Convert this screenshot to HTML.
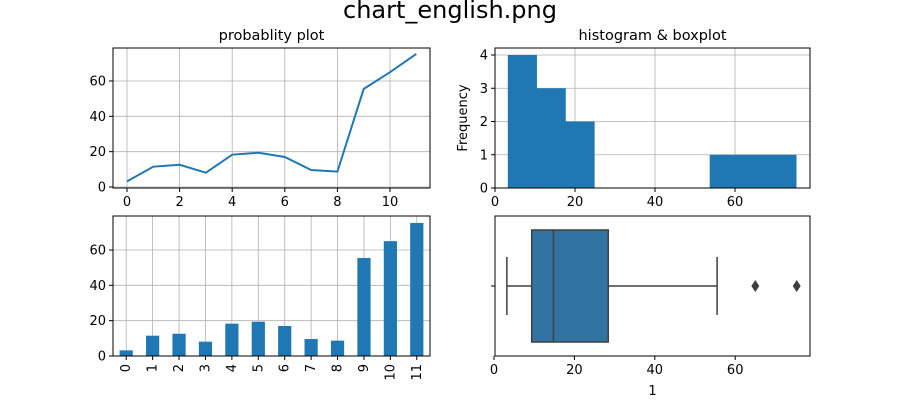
<!DOCTYPE html>
<html><head><meta charset="utf-8"><style>
body{margin:0;background:#fff}
svg{font-family:"DejaVu Sans","Liberation Sans",sans-serif}
</style></head><body>
<svg id="fig" width="900" height="400" xmlns="http://www.w3.org/2000/svg">
<rect width="900" height="400" fill="#fff"/>
<text x="450" y="18" text-anchor="middle" font-size="24">chart_english.png</text>
</svg>
<script>
const values=[3.2,11.5,12.6,8.1,18.3,19.4,17,9.6,8.7,55.5,65,75.3];
const categories=["0","1","2","3","4","5","6","7","8","9","10","11"];
const lineXTicks=[0,2,4,6,8,10];
const yTicks=[0,20,40,60];
const histYTicks=[0,1,2,3,4];
const histXTicks=[0,20,40,60];
const boxXTicks=[0,20,40,60];
const nBins=10;

const svg=document.getElementById('fig');
const NS='http://www.w3.org/2000/svg';
function mk(tag,attrs,parent,text){const e=document.createElementNS(NS,tag);for(const k in attrs)e.setAttribute(k,attrs[k]);if(text!==undefined)e.textContent=text;(parent||svg).appendChild(e);return e;}
const C='#1f77b4';
function frame(x0,y0,x1,y1,name){const g=mk('g',{});return g;}
function border(g,x0,y0,x1,y1){mk('rect',{x:x0,y:y0,width:x1-x0,height:y1-y0,fill:'none',stroke:'#000','stroke-width':1},g);}
function xtick(g,x,y,label,rot){mk('line',{x1:x,y1:y,x2:x,y2:y+4,stroke:'#000'},g);
 if(rot){const t=mk('text',{x:x+4,y:y+8,'font-size':13,'text-anchor':'end',transform:`rotate(-90 ${x+4} ${y+8})`},g,label);}
 else{const t=mk('text',{x:x,y:y+18,'font-size':13,'text-anchor':'middle'},g,label);}}
function ytick(g,x,y,label){mk('line',{x1:x-4,y1:y,x2:x,y2:y,stroke:'#000'},g);const t=mk('text',{x:x-7,y:y+4.5,'font-size':13,'text-anchor':'end'},g,label);}
function grid(g,x1,y1,x2,y2){mk('line',{x1,y1,x2,y2,stroke:'#b0b0b0','stroke-width':0.8},g);}

// ---- line plot
{const X0=113,X1=430,Y0=48,Y1=188;const g=frame(X0,Y0,X1,Y1,'probability-plot');
 const xs=v=>127+v*26.3, ys=v=>187-v*(187-81)/60;
 lineXTicks.forEach(t=>grid(g,xs(t),Y0,xs(t),Y1));yTicks.forEach(t=>grid(g,X0,ys(t),X1,ys(t)));
 const p=mk('polyline',{points:values.map((v,i)=>xs(i)+','+ys(v)).join(' '),fill:'none',stroke:C,'stroke-width':2},g);
 
 border(g,X0,Y0,X1,Y1);lineXTicks.forEach(t=>xtick(g,xs(t),Y1,String(t)));yTicks.forEach(t=>ytick(g,X0,ys(t),String(t)));
 const t=mk('text',{x:(X0+X1)/2,y:40,'font-size':14.5,'text-anchor':'middle'},g,'probablity plot');}

// ---- bar plot
{const X0=113,X1=430,Y0=216,Y1=356;const g=frame(X0,Y0,X1,Y1,'bar-plot');
 const step=(X1-X0)/categories.length, xs=i=>X0+step*(i+0.5), ys=v=>356-v*(356-250)/60;
 categories.forEach((c,i)=>grid(g,xs(i),Y0,xs(i),Y1));yTicks.forEach(t=>grid(g,X0,ys(t),X1,ys(t)));
 values.forEach((v,i)=>{const r=mk('rect',{x:xs(i)-step*0.25,y:ys(v),width:step*0.5,height:ys(0)-ys(v),fill:C},g);});
 border(g,X0,Y0,X1,Y1);categories.forEach((c,i)=>xtick(g,xs(i),Y1,c,true));yTicks.forEach(t=>ytick(g,X0,ys(t),String(t)));}

// ---- histogram
{const X0=495,X1=810,Y0=48,Y1=188;const g=frame(X0,Y0,X1,Y1,'histogram');
 const xs=v=>495+v*4.0, ys=v=>188-v*33.25;
 histXTicks.forEach(t=>grid(g,xs(t),Y0,xs(t),Y1));histYTicks.forEach(t=>grid(g,X0,ys(t),X1,ys(t)));
 const mn=Math.min(...values),mx=Math.max(...values),w=(mx-mn)/nBins;const counts=new Array(nBins).fill(0);
 values.forEach(v=>{let b=Math.floor((v-mn)/w);if(b>=nBins)b=nBins-1;counts[b]++;});
 counts.forEach((c,i)=>{if(!c)return;const r=mk('rect',{x:xs(mn+i*w),y:ys(c),width:xs(mn+(i+1)*w)-xs(mn+i*w)+0.3,height:ys(0)-ys(c),fill:C},g);});
 border(g,X0,Y0,X1,Y1);histXTicks.forEach(t=>xtick(g,xs(t),Y1,String(t)));histYTicks.forEach(t=>ytick(g,X0,ys(t),String(t)));
 const yl=mk('text',{x:467,y:118,'font-size':13,'text-anchor':'middle',transform:'rotate(-90 467 118)'},g,'Frequency');
 const t=mk('text',{x:(X0+X1)/2,y:40,'font-size':14.5,'text-anchor':'middle'},g,'histogram & boxplot');}

// ---- boxplot
{const X0=495,X1=810,Y0=216,Y1=356;const g=frame(X0,Y0,X1,Y1,'boxplot');
 const xs=v=>494+v*4.02;const s=[...values].sort((a,b)=>a-b);
 const q=p=>{const pos=p*(s.length-1),lo=Math.floor(pos);return s[lo]+(pos-lo)*((s[lo+1]??s[lo])-s[lo]);};
 const q1=q(.25),med=q(.5),q3=q(.75),iqr=q3-q1;
 const lw=Math.min(...s.filter(v=>v>=q1-1.5*iqr)),uw=Math.max(...s.filter(v=>v<=q3+1.5*iqr));
 const cy=286,st='#3f3f3f';
 mk('line',{x1:xs(lw),y1:cy,x2:xs(q1),y2:cy,stroke:st,'stroke-width':1.5},g);
 mk('line',{x1:xs(q3),y1:cy,x2:xs(uw),y2:cy,stroke:st,'stroke-width':1.5},g);
 mk('line',{x1:xs(lw),y1:257,x2:xs(lw),y2:315,stroke:st,'stroke-width':1.5},g);
 mk('line',{x1:xs(uw),y1:257,x2:xs(uw),y2:315,stroke:st,'stroke-width':1.5},g);
 const b=mk('rect',{x:xs(q1),y:230,width:xs(q3)-xs(q1),height:112,fill:'#3274a1',stroke:st,'stroke-width':1.5},g);
 mk('line',{x1:xs(med),y1:230,x2:xs(med),y2:342,stroke:st,'stroke-width':1.5},g);
 s.filter(v=>v<lw||v>uw).forEach(v=>{const d=mk('polygon',{points:`${xs(v)},${cy-6} ${xs(v)+4},${cy} ${xs(v)},${cy+6} ${xs(v)-4},${cy}`,fill:st},g);});
 border(g,X0,Y0,X1,Y1);boxXTicks.forEach(t=>xtick(g,xs(t),Y1,String(t)));
 mk('line',{x1:X0-4,y1:cy,x2:X0,y2:cy,stroke:'#000'},g);
 const xl=mk('text',{x:(X0+X1)/2,y:395,'font-size':13,'text-anchor':'middle'},g,'1');}
</script>
</body></html>
